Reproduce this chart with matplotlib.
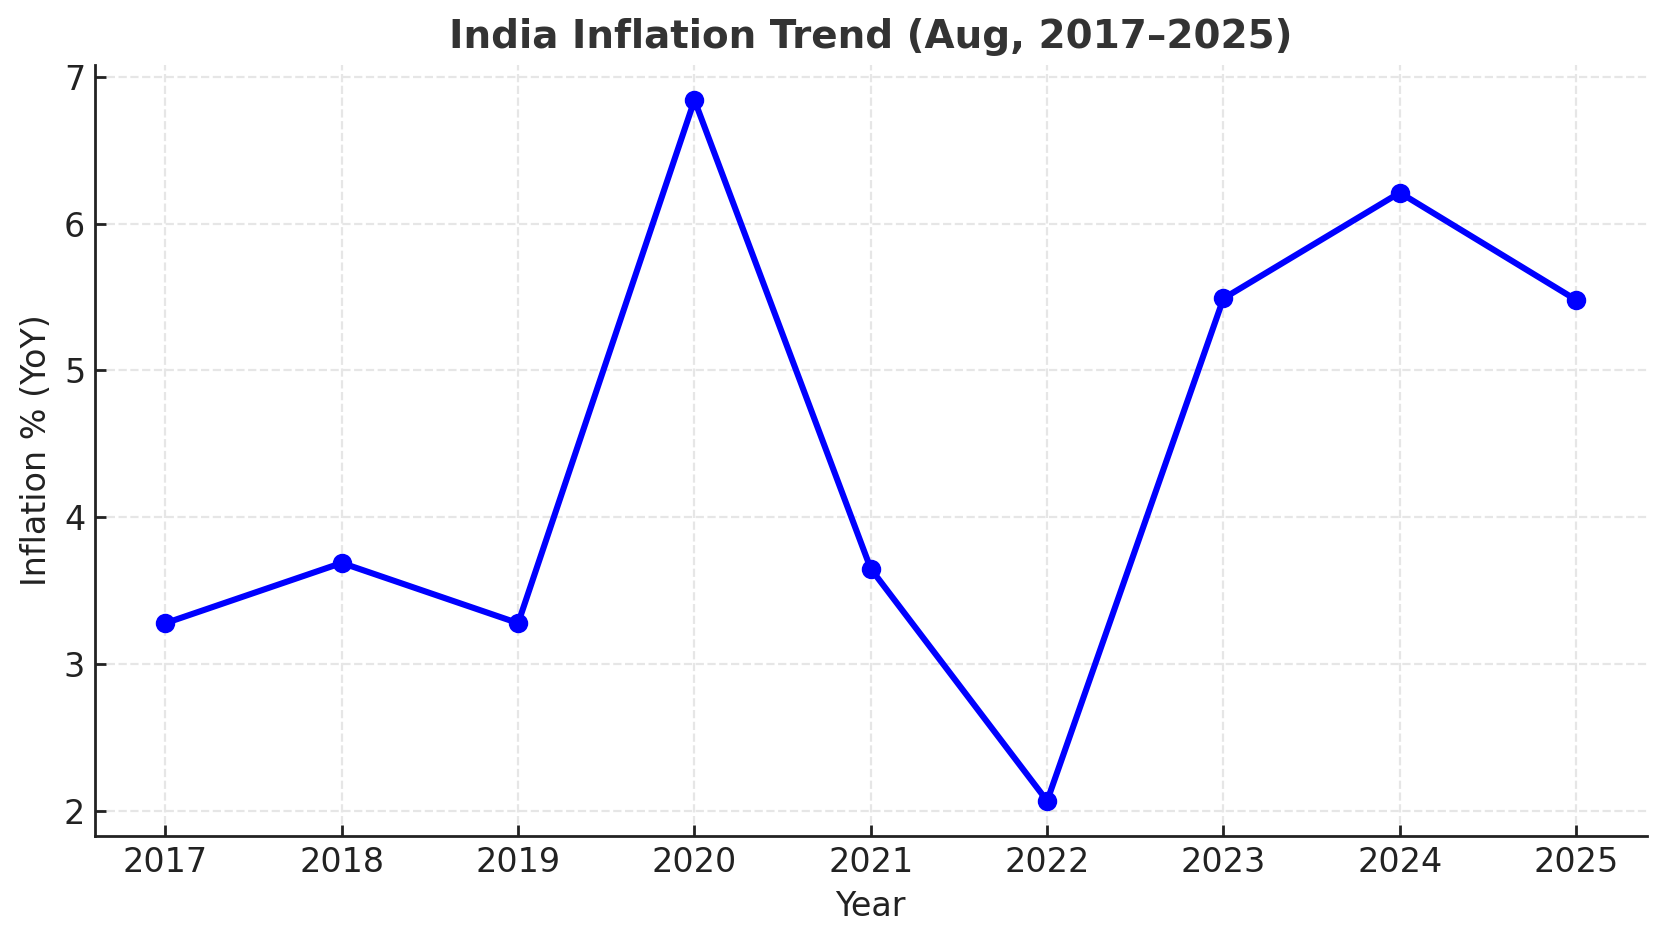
import matplotlib.pyplot as plt

# ======================
# 数据
# ======================
years = [2017, 2018, 2019, 2020, 2021, 2022, 2023, 2024, 2025]
inflation = [3.28, 3.69, 3.28, 6.84, 3.65, 2.07, 5.49, 6.21, 5.48]

title = "India Inflation Trend (Aug, 2017–2025)"

# ======================
# 画图
# ======================
fig, ax = plt.subplots(figsize=(8.325, 4.715), dpi=200)
fig.subplots_adjust(left=0.057, right=0.989, top=0.931, bottom=0.1135)

ax.plot(years, inflation, color="blue", marker="o", linewidth=2.2, markersize=6)

ax.set_title(title, fontsize=14, fontweight="bold", color="#333333")
ax.set_xlabel("Year", fontsize=12, color="#222222")
ax.set_ylabel("Inflation % (YoY)", fontsize=12, color="#222222")
ax.set_xticks(years)
ax.tick_params(direction="in", labelsize=12, colors="#222222", width=1.0, length=4)

ax.grid(True, linestyle="--", color="#e6e6e6", linewidth=0.8)
ax.set_axisbelow(True)

ax.spines["top"].set_visible(False)
ax.spines["right"].set_visible(False)
for s in ["left", "bottom"]:
    ax.spines[s].set_color("#222222")
    ax.spines[s].set_linewidth(1.0)

plt.savefig("out.png", dpi=200)
